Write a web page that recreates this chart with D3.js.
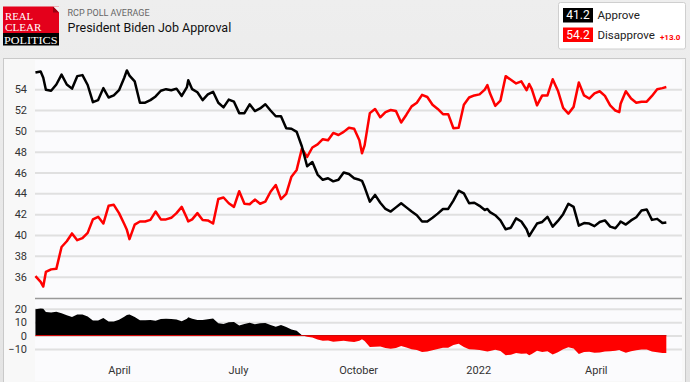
<!DOCTYPE html>
<html>
<head>
<meta charset="utf-8">
<script src="https://cdn.jsdelivr.net/npm/d3@7"></script>
<style>
  html, body { margin: 0; padding: 0; background: #ebebeb; }
  svg { display: block; }
  text { font-family: Roboto, "Open Sans", sans-serif; }
</style>
</head>
<body>
<svg id="chart" width="690" height="382"></svg>
<script>
// ---------- DATA ----------
const dates = [
"2021-01-27","2021-01-31","2021-02-02","2021-02-04","2021-02-08","2021-02-12","2021-02-16","2021-02-20","2021-02-24","2021-02-28",
"2021-03-04","2021-03-08","2021-03-12","2021-03-16","2021-03-20","2021-03-24","2021-03-28","2021-04-01","2021-04-05","2021-04-07",
"2021-04-09","2021-04-13","2021-04-17","2021-04-21","2021-04-25","2021-04-29","2021-05-03","2021-05-07","2021-05-11","2021-05-15",
"2021-05-19","2021-05-23","2021-05-24","2021-05-27","2021-05-31","2021-06-04","2021-06-08","2021-06-12","2021-06-16","2021-06-20",
"2021-06-24","2021-06-28","2021-07-02","2021-07-06","2021-07-10","2021-07-14","2021-07-18","2021-07-22","2021-07-26","2021-07-30",
"2021-08-03","2021-08-07","2021-08-11","2021-08-15","2021-08-19","2021-08-23","2021-08-27","2021-08-31","2021-09-04","2021-09-08",
"2021-09-12","2021-09-16","2021-09-20","2021-09-24","2021-09-28","2021-10-02","2021-10-04","2021-10-06","2021-10-10","2021-10-14",
"2021-10-18","2021-10-22","2021-10-26","2021-10-30","2021-11-03","2021-11-07","2021-11-11","2021-11-15","2021-11-19","2021-11-23",
"2021-11-27","2021-12-01","2021-12-05","2021-12-09","2021-12-13","2021-12-17","2021-12-21","2021-12-25","2021-12-29","2022-01-02",
"2022-01-06","2022-01-08","2022-01-10","2022-01-14","2022-01-18","2022-01-22","2022-01-26","2022-01-30","2022-02-03","2022-02-07",
"2022-02-09","2022-02-11","2022-02-15","2022-02-19","2022-02-23","2022-02-27","2022-03-03","2022-03-07","2022-03-11","2022-03-15",
"2022-03-19","2022-03-23","2022-03-27","2022-03-31","2022-04-04","2022-04-08","2022-04-12","2022-04-16","2022-04-19","2022-04-20",
"2022-04-24","2022-04-28","2022-05-02","2022-05-06","2022-05-10","2022-05-14","2022-05-18","2022-05-22","2022-05-25"
];
const approve = [
55.6,55.7,55.1,53.95,53.85,54.45,55.4,54.45,54.05,55.25,
55.35,54.4,52.75,52.95,54.1,53.2,53.4,53.9,55.1,55.8,
55.3,54.75,52.7,52.7,52.95,53.3,53.85,54.0,53.9,54.05,
53.35,54.2,54.85,54.0,53.7,52.95,53.5,53.75,52.7,52.25,
53.0,52.8,51.7,51.7,52.55,51.9,52.15,52.55,51.95,51.4,
51.4,50.25,50.2,49.9,48.5,46.6,47.0,45.8,45.3,45.45,
45.15,45.3,46.0,45.85,45.45,45.3,45.2,44.6,43.2,43.85,
43.1,42.5,42.25,42.65,43.05,42.65,42.25,41.9,41.3,41.3,
41.65,42.05,42.5,42.5,43.3,44.25,44.0,43.05,43.1,42.8,
42.4,42.5,42.2,41.9,41.4,40.55,40.7,41.6,41.3,40.55,
39.9,40.3,41.1,41.25,41.75,40.8,41.35,42.0,43.0,42.7,
40.9,41.15,41.1,40.85,41.25,41.4,40.8,40.65,41.1,41.3,
41.0,41.4,41.7,42.35,42.45,41.45,41.55,41.15,41.2
];
const disapprove = [
36.05,35.5,35.05,36.45,36.7,36.75,38.85,39.4,40.15,39.5,
39.7,40.2,41.5,41.75,41.1,42.8,42.9,42.1,41.05,40.5,
39.6,41.0,41.3,41.3,41.45,42.25,41.5,41.5,41.65,42.1,
42.7,41.6,41.3,41.5,42.1,41.45,41.4,41.1,43.45,43.6,
43.05,42.7,44.2,43.0,42.95,43.4,43.0,43.2,44.15,44.8,
43.45,43.95,45.6,46.25,48.3,47.5,48.4,48.7,49.2,49.1,
49.8,49.6,49.9,50.3,50.2,49.1,47.85,48.6,51.7,52.1,
51.3,51.8,52.0,51.9,50.8,51.55,52.35,52.7,53.45,53.25,
52.5,52.1,51.6,51.6,50.25,50.3,52.5,53.2,53.4,53.5,
53.95,54.4,53.6,52.4,52.9,55.25,54.9,54.55,54.75,53.9,
54.5,54.0,52.45,53.4,53.4,54.95,53.85,52.2,51.65,52.3,
54.65,53.4,53.1,53.6,53.8,53.35,52.45,51.95,51.8,52.6,
53.8,53.1,52.7,52.8,52.8,53.35,54.0,54.1,54.2
];
const mainTicks = [36, 38, 40, 42, 44, 46, 48, 50, 52, 54];
const spreadTicks = [-10, 0, 10, 20];
const xTickDates = ["2021-04-01", "2021-07-01", "2021-10-01", "2022-01-01", "2022-04-01"];
const xTickLabels = ["April", "July", "October", "2022", "April"];
const seriesNames = ["Approve", "Disapprove"];
const titleSmall = "RCP POLL AVERAGE";
const titleMain = "President Biden Job Approval";

// ---------- CHART ----------
const parse = d3.timeParse("%Y-%m-%d");
const rows = dates.map((d, i) => ({
  date: parse(d), a: approve[i], d: disapprove[i], s: approve[i] - disapprove[i]
}));

const svg = d3.select("#chart");
const L = 35, R = 682;

// background
const defs = svg.append("defs");
const bg = defs.append("linearGradient").attr("id", "bgGrad").attr("x1", 0).attr("y1", 0).attr("x2", 0).attr("y2", 1);
bg.append("stop").attr("offset", "0%").attr("stop-color", "#eeeeee");
bg.append("stop").attr("offset", "100%").attr("stop-color", "#e4e4e4");
svg.append("rect").attr("width", 690).attr("height", 382).attr("fill", "url(#bgGrad)");

// panel
svg.append("rect").attr("x", 3.5).attr("y", 58.5).attr("width", 682).attr("height", 330)
  .attr("fill", "#f8f8f8").attr("stroke", "#c9c9c9");
svg.append("rect").attr("x", L).attr("y", 60).attr("width", R - L).attr("height", 321)
  .attr("fill", "#fbfbfd");

const x = d3.scaleTime()
  .domain([new Date(2021, 0, 26, 16), new Date(2022, 5, 6)])
  .range([L, R]);
const y = d3.scaleLinear().domain([34, 56.8]).range([297.5, 60]);
const ys = d3.scaleLinear().domain([-10, 20]).range([349, 308.7]);

// main gridlines + labels
const gy = svg.append("g").attr("transform", `translate(${L},0)`)
  .call(d3.axisLeft(y).tickValues(mainTicks).tickSize(-(R - L)).tickPadding(8).tickFormat(d3.format("d")));
gy.select(".domain").remove();
gy.selectAll(".tick line").attr("stroke", "#e0e0e0").attr("stroke-width", 2);
gy.selectAll(".tick text").attr("fill", "#333").style("font-size", "11px");

// spread gridlines + labels
const gs = svg.append("g").attr("transform", `translate(${L},0)`)
  .call(d3.axisLeft(ys).tickValues(spreadTicks).tickSize(-(R - L)).tickPadding(8).tickFormat(d3.format("d")));
gs.select(".domain").remove();
gs.selectAll(".tick line").attr("stroke", "#e0e0e0").attr("stroke-width", 2);
gs.selectAll(".tick text").attr("fill", "#333").style("font-size", "11px");

// separator
svg.append("line").attr("x1", L).attr("x2", R).attr("y1", 298.5).attr("y2", 298.5)
  .attr("stroke", "#999").attr("stroke-width", 1.5);

// spread area
const zeroY = ys(0);
defs.append("clipPath").attr("id", "clipAbove").append("rect")
  .attr("x", L).attr("y", 300).attr("width", R - L).attr("height", zeroY - 300);
defs.append("clipPath").attr("id", "clipBelow").append("rect")
  .attr("x", L).attr("y", zeroY).attr("width", R - L).attr("height", 380 - zeroY);
const area = d3.area().x(r => x(r.date)).y0(zeroY).y1(r => ys(r.s));
svg.append("path").datum(rows).attr("d", area).attr("fill", "#000").attr("clip-path", "url(#clipAbove)");
svg.append("path").datum(rows).attr("d", area).attr("fill", "#ff0000").attr("clip-path", "url(#clipBelow)");
svg.append("line")
  .attr("x1", x(rows[0].date)).attr("x2", x(rows[rows.length - 1].date))
  .attr("y1", zeroY).attr("y2", zeroY).attr("stroke", "#d00000").attr("stroke-width", 1);

// lines
const lineA = d3.line().x(r => x(r.date)).y(r => y(r.a));
const lineD = d3.line().x(r => x(r.date)).y(r => y(r.d));
svg.append("path").datum(rows).attr("d", lineD).attr("fill", "none")
  .attr("stroke", "#ff0000").attr("stroke-width", 2.5).attr("stroke-linejoin", "round");
svg.append("path").datum(rows).attr("d", lineA).attr("fill", "none")
  .attr("stroke", "#000").attr("stroke-width", 2.5).attr("stroke-linejoin", "round");

// x axis labels
const gx = svg.append("g").attr("transform", "translate(0,362)")
  .call(d3.axisBottom(x).tickValues(xTickDates.map(parse)).tickSize(0).tickPadding(4)
    .tickFormat((d, i) => xTickLabels[i]));
gx.select(".domain").remove();
gx.selectAll(".tick text").attr("fill", "#333").style("font-size", "11px");

// ---------- HEADER ----------
const logo = svg.append("g");
logo.append("rect").attr("x", 3).attr("y", 6.5).attr("width", 56).attr("height", 27).attr("fill", "#e4001b");
logo.append("rect").attr("x", 3).attr("y", 33).attr("width", 56).attr("height", 12.5).attr("fill", "#000");
logo.append("path").attr("d", "M53,6.5 L59,6.5 L59,12.5 Z").attr("fill", "#f2f2f2");
logo.append("path").attr("d", "M53,6.5 L59,12.5 L53,12.5 Z").attr("fill", "#9b0012");
const serif = "'Liberation Serif', 'DejaVu Serif', serif";
logo.append("text").attr("x", 5).attr("y", 20).attr("fill", "#fff").style("font-family", serif)
  .style("font-size", "10px").attr("textLength", 28).attr("lengthAdjust", "spacingAndGlyphs").text("REAL");
logo.append("text").attr("x", 5).attr("y", 31.2).attr("fill", "#fff").style("font-family", serif)
  .style("font-size", "10px").attr("textLength", 36.5).attr("lengthAdjust", "spacingAndGlyphs").text("CLEAR");
logo.append("text").attr("x", 4).attr("y", 43.5).attr("fill", "#fff").style("font-family", serif)
  .style("font-size", "10px").attr("textLength", 53.5).attr("lengthAdjust", "spacingAndGlyphs").text("POLITICS");

svg.append("text").attr("x", 67.5).attr("y", 16).attr("fill", "#666").style("font-size", "9px").text(titleSmall);
svg.append("text").attr("x", 67.5).attr("y", 31.5).attr("fill", "#111").style("font-size", "12.5px").text(titleMain);

// ---------- LEGEND ----------
const last = rows[rows.length - 1];
const lg = svg.append("g");
lg.append("rect").attr("x", 558.5).attr("y", 2.5).attr("width", 127).attr("height", 46.5).attr("rx", 2)
  .attr("fill", "#fff").attr("stroke", "#cfcfcf");
const legendItems = [
  { name: seriesNames[0], val: last.a, color: "#000", yTop: 8 },
  { name: seriesNames[1], val: last.d, color: "#ff0000", yTop: 27.5 }
];
legendItems.forEach(it => {
  lg.append("rect").attr("x", 563).attr("y", it.yTop).attr("width", 30).attr("height", 14.5).attr("fill", it.color);
  lg.append("text").attr("x", 578).attr("y", it.yTop + 11.3).attr("text-anchor", "middle")
    .attr("fill", "#fff").style("font-size", "12px").text(it.val.toFixed(1));
  lg.append("text").attr("x", 597.5).attr("y", it.yTop + 11.3).attr("fill", "#222")
    .style("font-size", "11.5px").text(it.name);
});
const spread = last.d - last.a;
lg.append("text").attr("x", 660).attr("y", 39.5).attr("fill", "#ff0000")
  .style("font-size", "8px").style("font-weight", "bold").text("+" + spread.toFixed(1));
</script>
</body>
</html>
